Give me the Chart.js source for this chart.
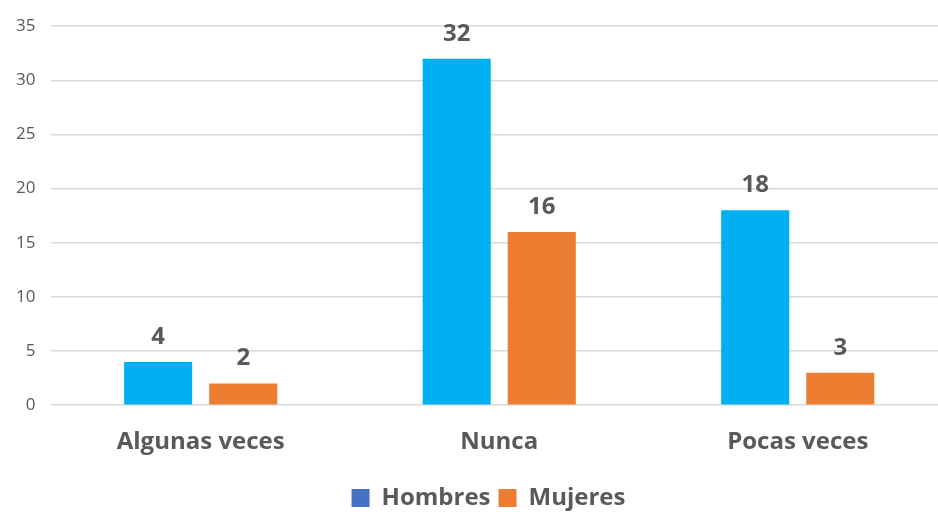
<!DOCTYPE html>
<html>
<head>
<meta charset="utf-8">
<script src="https://cdn.jsdelivr.net/npm/chart.js@4/dist/chart.umd.min.js"></script>
<style>
  html, body { margin: 0; padding: 0; background: #fff; overflow: hidden; }
  #wrap { width: 950px; height: 514px; }
</style>
</head>
<body>
<div id="wrap"><canvas id="myChart"></canvas></div>
<script>
// Chart data
const categories = ['Algunas veces', 'Nunca', 'Pocas veces'];
const hombres = [4, 32, 18];
const mujeres = [2, 16, 3];
const yTicks = [0, 5, 10, 15, 20, 25, 30, 35];

const textColor = '#595959';
const fontFamily = "'Open Sans', 'Noto Sans', sans-serif";

// Draw the value above each bar
const valueLabels = {
    id: 'valueLabels',
    afterDatasetsDraw(chart) {
        const ctx = chart.ctx;
        ctx.save();
        ctx.font = 'bold 24px ' + fontFamily;
        ctx.fillStyle = textColor;
        ctx.textAlign = 'center';
        ctx.textBaseline = 'middle';
        chart.data.datasets.forEach((ds, i) => {
            chart.getDatasetMeta(i).data.forEach((bar, j) => {
                ctx.fillText(ds.data[j], bar.x, bar.y - 25);
            });
        });
        ctx.restore();
    }
};

// Nudge the legend a bit right and down, like the original
const legendShift = {
    id: 'legendShift',
    afterLayout(chart) {
        const lg = chart.legend;
        lg.left += 30;
        lg.top += 6;
        lg.bottom += 6;
    }
};

const ctx = document.getElementById('myChart').getContext('2d');
const chart = new Chart(ctx, {
    type: 'bar',
    data: {
        labels: categories,
        datasets: [{
            label: 'Hombres',
            data: hombres,
            backgroundColor: '#00B0F0',
            legendColor: '#4472C4'
        }, {
            label: 'Mujeres',
            data: mujeres,
            backgroundColor: '#ED7D31',
            legendColor: '#ED7D31'
        }]
    },
    options: {
        responsive: true,
        maintainAspectRatio: false,
        animation: false,
        categoryPercentage: 0.57,
        barPercentage: 0.8,
        layout: { padding: { top: -3, right: 3, left: 0, bottom: 0 } },
        plugins: {
            tooltip: { enabled: false },
            legend: {
                position: 'bottom',
                labels: {
                    color: textColor,
                    font: { family: fontFamily, size: 24, weight: 'bold' },
                    boxWidth: 18,
                    boxHeight: 18,
                    padding: 8,
                    generateLabels(chart) {
                        return chart.data.datasets.map((ds, i) => ({
                            text: ds.label,
                            fillStyle: ds.legendColor,
                            strokeStyle: ds.legendColor,
                            lineWidth: 0,
                            fontColor: textColor,
                            datasetIndex: i
                        }));
                    }
                }
            }
        },
        scales: {
            x: {
                grid: { display: false },
                border: { display: false },
                ticks: {
                    color: textColor,
                    padding: 15,
                    font: { family: fontFamily, size: 24, weight: 'bold' }
                }
            },
            y: {
                min: 0,
                max: 35,
                afterBuildTicks(axis) {
                    axis.ticks = yTicks.map(v => ({ value: v }));
                },
                grid: { color: '#D9D9D9', lineWidth: 1.5, drawTicks: false },
                border: { display: false },
                ticks: {
                    color: textColor,
                    padding: 16,
                    font: { family: fontFamily, size: 17 }
                }
            }
        }
    },
    plugins: [valueLabels, legendShift]
});

// redraw once the local fonts are ready so text gets measured right
document.fonts.ready.then(() => chart.update());
</script>
</body>
</html>
